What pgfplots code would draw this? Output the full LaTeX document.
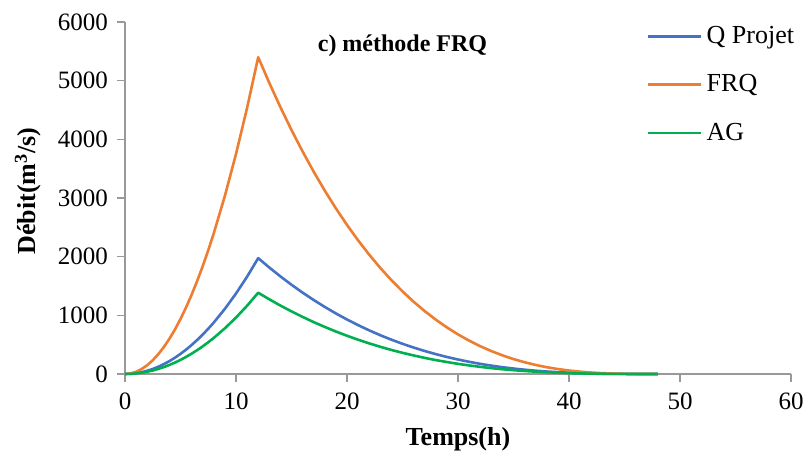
\documentclass[border=0pt]{standalone}
\usepackage{pgfplots}
\pgfplotsset{compat=1.18}
\usepackage{fontspec}
\setmainfont{Liberation Serif}
\definecolor{cblue}{HTML}{4472C4}
\definecolor{corange}{HTML}{ED7D31}
\definecolor{cgreen}{HTML}{00B050}
\begin{document}
\begin{tikzpicture}
\useasboundingbox (-62.5pt,-42.5pt) rectangle (340.5pt,187pt);
\begin{axis}[
  at={(0pt,0pt)}, anchor=south west,
  scale only axis,
  width=333pt, height=176pt,
  xmin=0, xmax=60, ymin=0, ymax=6000,
  xtick={0,10,...,60}, ytick={0,1000,...,6000},
  axis x line*=bottom, axis y line*=left,
  axis line style={draw=gray!80, line width=0.6pt},
  tick style={draw=gray!80, line width=0.6pt},
  tick align=outside,
  major tick length=4pt,
  clip=false,
  /pgf/number format/assume math mode=true,
  /pgf/number format/set thousands separator={},
  tick label style={font=\fontsize{12.5}{14}\selectfont},
  xticklabel style={yshift=-2pt},
  yticklabel style={xshift=-1pt},
  xlabel={\textbf{Temps(h)}},
  ylabel={\textbf{Débit(m\textsuperscript{3}/s)}},
  label style={font=\fontsize{13}{15}\selectfont},
  xlabel style={at={(axis description cs:0.5,-0.185)}, anchor=center},
  ylabel style={at={(axis description cs:-0.1456,0.52)}, anchor=center, rotate=0},
  legend style={draw=none, fill=none, at={(axis cs:47,6000)}, anchor=north west,
    font=\fontsize{13}{15}\selectfont, row sep=10pt, inner sep=0pt,
    nodes={inner xsep=2pt}},
  legend cell align=left,
  legend image code/.code={\draw[#1] (0pt,0pt) -- (26.5pt,0pt);},
  every axis plot/.append style={line width=1.3pt, line join=round},
]
\addplot[cblue] coordinates {
(0,0)(0.5,3.4)(1,13.7)(1.5,30.9)(2,54.9)(2.5,85.7)(3,123.4)(3.5,168.0)(4,219.4)(4.5,277.7)(5,342.9)(5.5,414.9)(6,493.8)(6.5,579.5)(7,672.0)(7.5,771.5)(8,877.8)(9,1110.9)(10,1371.5)(11,1659.5)(12,1975)
(13,1815)(14,1664)(15,1521)(16,1387)(17,1261)(18,1143)(19,1032)(20,929)(21,833)(22,744)(23,661)(24,585)(25,515)(26,451)(27,392)(28,339)(29,290)(30,247)(31,208)(32,173)(33,143)(34,116)(35,93)(36,73)(37,56)(38,42)(39,31)(40,22)(41,15)(42,9)(43,5)(44,3)(45,1)(46,0)(47,0)(48,0)
};
\addlegendentry{Q Projet}
\addplot[corange] coordinates {
(0,0)(0.5,9.4)(1,37.5)(1.5,84.4)(2,150)(2.5,234.4)(3,337.5)(3.5,459.4)(4,600)(4.5,759.4)(5,937.5)(5.5,1134.4)(6,1350)(6.5,1584.4)(7,1837.5)(7.5,2109.4)(8,2400)(9,3037.5)(10,3750)(11,4537.5)(12,5400)
(13,4962)(14,4549)(15,4159)(16,3793)(17,3448)(18,3125)(19,2823)(20,2541)(21,2278)(22,2034)(23,1808)(24,1600)(25,1408)(26,1232)(27,1072)(28,926)(29,794)(30,675)(31,569)(32,474)(33,391)(34,318)(35,254)(36,200)(37,154)(38,116)(39,84)(40,59)(41,40)(42,25)(43,14)(44,7)(45,3)(46,1)(47,0)(48,0)
};
\addlegendentry{FRQ}
\addplot[cgreen] coordinates {
(0,0)(0.5,2.4)(1,9.6)(1.5,21.6)(2,38.5)(2.5,60.1)(3,86.6)(3.5,117.8)(4,153.9)(4.5,194.8)(5,240.5)(5.5,291.0)(6,346.3)(6.5,406.4)(7,471.3)(7.5,541.0)(8,615.6)(9,779.1)(10,961.8)(11,1163.8)(12,1385)
(13,1273)(14,1167)(15,1067)(16,973)(17,884)(18,802)(19,724)(20,652)(21,584)(22,522)(23,464)(24,410)(25,361)(26,316)(27,275)(28,237)(29,204)(30,173)(31,146)(32,122)(33,100)(34,81)(35,65)(36,51)(37,40)(38,30)(39,22)(40,15)(41,10)(42,6)(43,4)(44,2)(45,1)(46,0)(47,0)(48,0)
};
\addlegendentry{AG}
\node[font=\bfseries\fontsize{12}{14}\selectfont] at (axis cs:25,5600) {c) méthode FRQ};
\end{axis}
\end{tikzpicture}
\end{document}
